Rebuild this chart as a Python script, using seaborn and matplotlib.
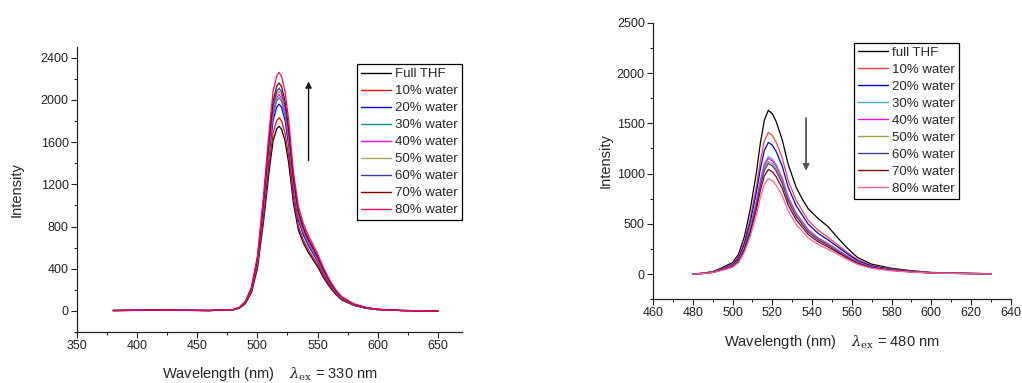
import numpy as np
import pandas as pd
import matplotlib
matplotlib.use("Agg")
import matplotlib.pyplot as plt
from matplotlib.ticker import MultipleLocator
import seaborn as sns

# ---------------- data: left panel (excitation 330 nm) ----------------
wl_left = [380, 420, 460, 480, 485, 490, 495, 500, 505, 510, 513, 516, 518, 520, 523, 526,
           530, 534, 538, 542, 546, 550, 555, 560, 565, 570, 580, 590, 600, 620, 650]
labels_left = ["Full THF", "10% water", "20% water", "30% water", "40% water",
               "50% water", "60% water", "70% water", "80% water"]
full_thf_l = [4, 7, 4, 10, 26, 70, 175, 403, 840, 1348, 1610, 1724, 1750, 1724, 1610, 1400, 1015, 770, 648, 560, 490, 420, 315, 228, 158, 105, 53, 26, 12, 4, 0]
w10_l = [4, 7, 4, 11, 27, 73, 183, 421, 878, 1409, 1684, 1803, 1830, 1803, 1684, 1464, 1061, 805, 677, 586, 512, 439, 329, 238, 165, 110, 55, 27, 13, 4, 0]
w20_l = [4, 8, 4, 12, 29, 78, 196, 451, 941, 1509, 1803, 1931, 1960, 1931, 1803, 1568, 1137, 862, 725, 627, 549, 470, 353, 255, 176, 118, 59, 29, 14, 4, 0]
w30_l = [4, 8, 4, 12, 30, 81, 202, 465, 970, 1555, 1858, 1990, 2020, 1990, 1858, 1616, 1172, 889, 747, 646, 566, 485, 364, 263, 182, 121, 61, 30, 14, 4, 0]
w40_l = [4, 8, 4, 12, 31, 82, 205, 472, 984, 1579, 1886, 2019, 2050, 2019, 1886, 1640, 1189, 902, 759, 656, 574, 492, 369, 267, 185, 123, 62, 31, 14, 4, 0]
w50_l = [4, 8, 4, 12, 31, 83, 208, 478, 998, 1602, 1914, 2049, 2080, 2049, 1914, 1664, 1206, 915, 770, 666, 582, 499, 374, 270, 187, 125, 62, 31, 15, 4, 0]
w60_l = [4, 8, 4, 13, 32, 84, 211, 485, 1013, 1625, 1941, 2078, 2110, 2078, 1941, 1688, 1224, 928, 781, 675, 591, 506, 380, 274, 190, 127, 63, 32, 15, 4, 0]
w70_l = [4, 9, 4, 13, 32, 86, 216, 497, 1037, 1663, 1987, 2128, 2160, 2128, 1987, 1728, 1253, 950, 799, 691, 605, 518, 389, 281, 194, 130, 65, 32, 15, 4, 0]
w80_l = [5, 9, 5, 14, 34, 90, 226, 520, 1085, 1740, 2079, 2226, 2260, 2226, 2079, 1808, 1311, 994, 836, 723, 633, 542, 407, 294, 203, 136, 68, 34, 16, 5, 0]
colors_left = ["#000000", "#ff0000", "#0000ff", "#009090", "#ff00ff",
               "#a8a860", "#3c3ca0", "#800000", "#ff0066"]

# ---------------- data: right panel (excitation 480 nm) ----------------
wl_right = [480, 485, 490, 495, 500, 503, 506, 509, 512, 514, 516, 518, 520, 522, 525, 528,
            532, 535, 538, 543, 548, 553, 558, 563, 570, 580, 590, 600, 610, 620, 630]
labels_right = ["full THF", "10% water", "20% water", "30% water", "40% water",
                "50% water", "60% water", "70% water", "80% water"]
full_thf_r = [0, 8, 24, 65, 114, 196, 375, 652, 1011, 1304, 1532, 1630, 1597, 1516, 1337, 1092, 864, 750, 652, 554, 473, 359, 253, 163, 98, 57, 33, 16, 10, 7, 3]
w10_r = [0, 7, 21, 56, 99, 169, 324, 564, 874, 1128, 1325, 1410, 1382, 1311, 1156, 931, 733, 635, 536, 437, 367, 289, 212, 141, 85, 49, 28, 14, 8, 6, 3]
w20_r = [0, 7, 20, 52, 92, 157, 301, 524, 812, 1048, 1231, 1310, 1284, 1218, 1074, 865, 681, 590, 498, 406, 341, 269, 197, 131, 79, 46, 26, 13, 8, 5, 3]
w30_r = [0, 6, 18, 47, 82, 140, 269, 468, 725, 936, 1100, 1170, 1147, 1088, 959, 772, 608, 527, 445, 363, 304, 240, 176, 117, 70, 41, 23, 12, 7, 5, 2]
w40_r = [0, 6, 17, 46, 81, 138, 265, 460, 713, 920, 1081, 1150, 1127, 1070, 943, 759, 598, 518, 437, 357, 299, 236, 173, 115, 69, 40, 23, 12, 7, 5, 2]
w50_r = [0, 6, 17, 45, 78, 134, 258, 448, 694, 896, 1053, 1120, 1098, 1042, 918, 739, 582, 504, 426, 347, 291, 230, 168, 112, 67, 39, 22, 11, 7, 4, 2]
w60_r = [0, 6, 17, 44, 77, 132, 253, 440, 682, 880, 1034, 1100, 1078, 1023, 902, 726, 572, 495, 418, 341, 286, 226, 165, 110, 66, 39, 22, 11, 7, 4, 2]
w70_r = [0, 5, 16, 42, 73, 125, 239, 416, 645, 832, 978, 1040, 1019, 967, 853, 686, 541, 468, 395, 322, 270, 213, 156, 104, 62, 36, 21, 10, 6, 4, 2]
w80_r = [0, 5, 14, 38, 67, 114, 219, 380, 589, 760, 893, 950, 931, 884, 779, 627, 494, 428, 361, 295, 247, 195, 143, 95, 57, 33, 19, 10, 6, 4, 2]
colors_right = ["#000000", "#ff3c3c", "#0000dd", "#40b0b0", "#ff00ff",
                "#a0a040", "#40409c", "#8b0000", "#ff5fa0"]

series_left = [full_thf_l, w10_l, w20_l, w30_l, w40_l, w50_l, w60_l, w70_l, w80_l]
series_right = [full_thf_r, w10_r, w20_r, w30_r, w40_r, w50_r, w60_r, w70_r, w80_r]


def long_df(wl, labels, series):
    frames = []
    for lab, vals in zip(labels, series):
        frames.append(pd.DataFrame({"wl": wl, "I": vals, "s": lab}))
    return pd.concat(frames, ignore_index=True)


sns.set_style("ticks")
plt.rcParams["font.family"] = ["Liberation Sans", "DejaVu Sans"]
plt.rcParams["mathtext.fontset"] = "dejavuserif"
plt.rcParams["xtick.direction"] = "out"
plt.rcParams["ytick.direction"] = "out"

fig = plt.figure(figsize=(10.22, 3.83), dpi=100)
axL = fig.add_axes([0.0753, 0.133, 0.3767, 0.744])
axR = fig.add_axes([0.639, 0.219, 0.350, 0.721])


def style_axis(ax, xmaj, xmin, ymaj, ymin):
    for sp in ["top", "right"]:
        ax.spines[sp].set_visible(False)
    for sp in ["left", "bottom"]:
        ax.spines[sp].set_linewidth(0.9)
        ax.spines[sp].set_color("#222222")
    ax.xaxis.set_major_locator(MultipleLocator(xmaj))
    ax.xaxis.set_minor_locator(MultipleLocator(xmin))
    ax.yaxis.set_major_locator(MultipleLocator(ymaj))
    ax.yaxis.set_minor_locator(MultipleLocator(ymin))
    ax.tick_params(which="major", length=4, width=0.8, labelsize=9, colors="#222222", pad=2)
    ax.tick_params(which="minor", length=2.5, width=0.8, colors="#222222")


def draw(ax, wl, labels, series, colors, xlim, ylim):
    df = long_df(wl, labels, series)
    sns.lineplot(data=df, x="wl", y="I", hue="s", palette=colors, ax=ax,
                 linewidth=0.9, sort=False, estimator=None, legend=False)
    ax.set_xlim(*xlim)
    ax.set_ylim(*ylim)


draw(axL, wl_left, labels_left, series_left, colors_left, (350, 670), (-200, 2500))
style_axis(axL, 50, 25, 400, 200)
axL.set_xticks([350, 400, 450, 500, 550, 600, 650])
axL.set_yticks([0, 400, 800, 1200, 1600, 2000, 2400])

draw(axR, wl_right, labels_right, series_right, colors_right, (460, 640), (-250, 2500))
style_axis(axR, 20, 10, 500, 250)

axL.set_xlabel(r"Wavelength (nm)    $\lambda_{\rm ex}$ = 330 nm", fontsize=10.5, labelpad=9)
axR.set_xlabel(r"Wavelength (nm)    $\lambda_{\rm ex}$ = 480 nm", fontsize=10.5, labelpad=10)
axL.set_ylabel("Intensity", fontsize=10.5, labelpad=12)
axR.set_ylabel("Intensity", fontsize=10.5, labelpad=3)

# legends
for ax, labels, colors, anchor in [(axL, labels_left, colors_left, (1.0, 0.94)),
                                   (axR, labels_right, colors_right, (0.855, 0.928))]:
    handles = [plt.Line2D([], [], color=c, lw=1.0) for c in colors]
    leg = ax.legend(handles, labels, loc="upper right", bbox_to_anchor=anchor,
                    frameon=True, fancybox=False, edgecolor="#000000", framealpha=1,
                    fontsize=9.5, handlelength=2.3, handletextpad=0.3,
                    labelspacing=0.36, borderpad=0.3, borderaxespad=0)
    leg.get_frame().set_linewidth(0.9)

# arrows
axL.annotate("", xy=(542.5, 2200), xytext=(542.5, 1400),
             arrowprops=dict(arrowstyle="-|>", color="#111111", lw=1.0, mutation_scale=9))
axR.annotate("", xy=(537, 1000), xytext=(537, 1580),
             arrowprops=dict(arrowstyle="-|>", color="#555555", lw=1.3, mutation_scale=9))

fig.savefig("out.png", dpi=100)
